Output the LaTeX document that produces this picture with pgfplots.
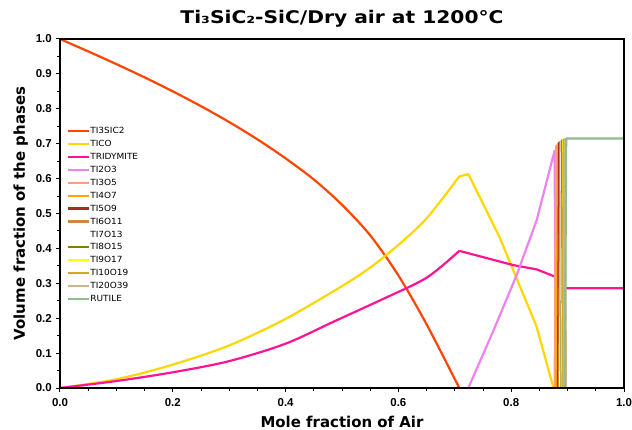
\documentclass[border=0pt]{standalone}
\usepackage{fontspec}
\setmainfont{DejaVu Sans}
\newfontfamily\tickfont{Liberation Sans}
\newfontfamily\widefont[FakeStretch=1.16]{DejaVu Sans}
\newfontfamily\legfont[FakeStretch=1.06]{DejaVu Sans}
\usepackage{pgfplots}
\pgfplotsset{compat=1.18}

% matplotlib named colours
\definecolor{cTiSiC}{RGB}{255,69,0}
\definecolor{cTiCO}{RGB}{255,215,0}
\definecolor{cTrid}{RGB}{255,20,147}
\definecolor{cTiiO}{RGB}{238,130,238}
\definecolor{cTiiiO}{RGB}{255,160,122}
\definecolor{cTiivO}{RGB}{255,165,0}
\definecolor{cTivO}{RGB}{165,42,42}
\definecolor{cTivi}{RGB}{205,133,63}
\definecolor{cTivii}{RGB}{255,255,255}
\definecolor{cTiviii}{RGB}{128,128,0}
\definecolor{cTiix}{RGB}{255,255,0}
\definecolor{cTix}{RGB}{218,165,32}
\definecolor{cTixx}{RGB}{210,180,140}
\definecolor{cRut}{RGB}{143,188,143}

\begin{document}
\begin{tikzpicture}
\begin{axis}[
  name=ax,
  scale only axis,
  width=564bp, height=349bp,
  xmin=0, xmax=1, ymin=0, ymax=1,
  axis on top,
  axis line style={line width=1.3bp},
  tick pos=left, tick align=outside,
  major tick length=4bp, minor tick length=2.5bp,
  every tick/.style={black, line width=1bp},
  xtick={0,0.2,0.4,0.6,0.8,1}, minor x tick num=3,
  ytick={0,0.1,0.2,0.3,0.4,0.5,0.6,0.7,0.8,0.9,1}, minor y tick num=1,
  ticklabel style={font=\tickfont\bfseries\fontsize{11.5}{12}\selectfont,
    /pgf/number format/fixed, /pgf/number format/fixed zerofill,
    /pgf/number format/precision=1, /pgf/number format/assume math mode=true},
  xticklabel style={anchor=north, inner sep=0pt, yshift=-6bp},
  yticklabel style={anchor=east, inner sep=0pt, xshift=-4bp},
  xlabel={\bfseries Mole fraction of Air},
  ylabel={\bfseries Volume fraction of the phases},
  label style={font=\fontsize{15}{16}\selectfont},
  xlabel style={at={(axis description cs:0.5,0)}, anchor=base, yshift=-39bp},
  ylabel style={at={(axis description cs:0,0.5)}, anchor=base, yshift=35bp},
  title={\bfseries Ti₃SiC₂-SiC/Dry air at 1200°C},
  title style={font=\widefont\fontsize{17.5}{19}\selectfont,
    at={(axis description cs:0.5,1)}, anchor=base, yshift=10bp},
  legend cell align=left,
  legend image code/.code={\draw[#1, line width=2.2bp] (0bp,0bp) -- (21bp,0bp);},
  legend style={draw=none, fill=none, at={(axis description cs:0.007,0.753)},
    anchor=north west, font=\legfont\fontsize{8.5}{9}\selectfont, row sep=5.4bp,
    nodes={inner sep=0bp, text height=6.5bp, text depth=1bp},
    /tikz/every even column/.append style={column sep=6bp}},
  every axis plot/.append style={line width=2.2bp, line join=round},
]
\addplot[cTiSiC, smooth] coordinates {
  (0,1.000) (0.05,0.9645) (0.1,0.928) (0.15,0.890) (0.2,0.850) (0.25,0.8075)
  (0.3,0.762) (0.35,0.7125) (0.4,0.658) (0.45,0.5975) (0.5,0.525)
  (0.55,0.4375) (0.6,0.3225) (0.65,0.1825) (0.708,0)};
\addlegendentry{TI3SIC2}
\addplot[cTiCO, smooth] coordinates {
  (0,0) (0.1,0.025) (0.2,0.067) (0.3,0.122) (0.4,0.198) (0.5,0.292)
  (0.55,0.345) (0.6,0.410) (0.65,0.486) (0.708,0.606)};
\addlegendentry{TICO}
\addplot[cTiCO, forget plot] coordinates {
  (0.708,0.606) (0.724,0.613) (0.78,0.43) (0.845,0.176) (0.875,0)};
\addplot[cTrid, smooth] coordinates {
  (0,0) (0.1,0.020) (0.2,0.045) (0.3,0.077) (0.4,0.127) (0.485,0.190)
  (0.57,0.253) (0.65,0.316) (0.708,0.393)};
\addlegendentry{TRIDYMITE}
\addplot[cTrid, forget plot] coordinates {
  (0.708,0.393) (0.804,0.352) (0.845,0.340) (0.878,0.319)
  (0.897,0.286) (1,0.286)};
\addplot[cTiiO] coordinates {
  (0.724,0) (0.77,0.17) (0.81,0.325) (0.845,0.48) (0.877,0.68) (0.879,0)};
\addlegendentry{TI2O3}
\addplot[cTiiiO] coordinates {(0.877,0) (0.880,0.695) (0.883,0)};
\addlegendentry{TI3O5}
\addplot[cTiivO] coordinates {(0.880,0) (0.883,0.700) (0.886,0)};
\addlegendentry{TI4O7}
\addplot[cTivO] coordinates {(0.883,0) (0.885,0.703) (0.887,0)};
\addlegendentry{TI5O9}
\addplot[cTivi] coordinates {(0.885,0) (0.887,0.706) (0.889,0)};
\addlegendentry{TI6O11}
\addplot[cTivii] coordinates {(0.887,0) (0.889,0.708) (0.891,0)};
\addlegendentry{TI7O13}
\addplot[cTiviii] coordinates {(0.889,0) (0.890,0.710) (0.892,0)};
\addlegendentry{TI8O15}
\addplot[cTiix] coordinates {(0.890,0) (0.892,0.711) (0.894,0)};
\addlegendentry{TI9O17}
\addplot[cTix] coordinates {(0.891,0) (0.893,0.712) (0.895,0)};
\addlegendentry{TI10O19}
\addplot[cTixx] coordinates {(0.893,0) (0.895,0.713) (0.897,0)};
\addlegendentry{TI20O39}
\addplot[cRut] coordinates {(0.895,0) (0.8975,0.715) (1,0.715)};
\addlegendentry{RUTILE}
\end{axis}
\pgfresetboundingbox
\path ([xshift=-60bp,yshift=-42bp]ax.south west) rectangle ([xshift=8bp,yshift=39bp]ax.north east);
\end{tikzpicture}
\end{document}
